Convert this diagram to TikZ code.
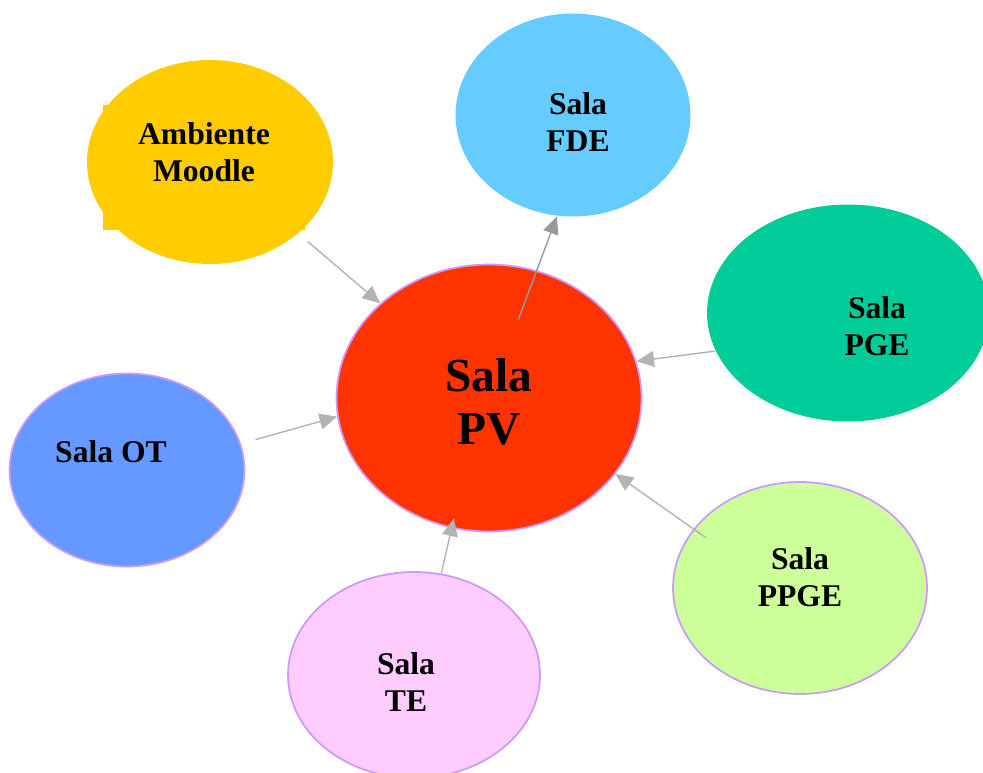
\documentclass[tikz,border=0pt]{standalone}
\usepackage{fontspec}
\setmainfont{Liberation Serif}
\usetikzlibrary{shapes.geometric,arrows.meta}

\definecolor{moodleyellow}{HTML}{FFCC00}
\definecolor{fdeblue}{HTML}{66CCFF}
\definecolor{pgegreen}{HTML}{00CC99}
\definecolor{pvred}{HTML}{FF3300}
\definecolor{otblue}{HTML}{6699FF}
\definecolor{tepink}{HTML}{FFCCFF}
\definecolor{ppgegreen}{HTML}{CCFF99}
\definecolor{rimpurple}{HTML}{CC99FF}
\definecolor{linkgray}{HTML}{B3B3B3}
\definecolor{linkdark}{HTML}{999999}

\begin{document}
\begin{tikzpicture}[x=0.02cm,y=-0.02cm,
    sala/.style={ellipse,inner sep=0pt,draw=rimpurple,line width=1pt},
    salatext/.style={font=\bfseries\fontsize{18}{21}\selectfont,align=center,inner sep=0pt},
    link/.style={-{Triangle[length=10pt,width=9pt]},draw=linkgray,fill=linkgray,line width=0.8pt}]
    \clip (0,0) rectangle (983,773);

    % rooms around the centre
    \fill[moodleyellow] (103,105) rectangle (305,230);
    \node[sala,draw=none,fill=moodleyellow,minimum width=4.92cm,minimum height=4.08cm] (moodle) at (210,162) {};
    \node[sala,draw=none,fill=fdeblue,minimum width=4.7cm,minimum height=4.06cm] (fde) at (573,115) {};
    \node[sala,draw=none,fill=pgegreen,minimum width=5.64cm,minimum height=4.34cm] (pge) at (848,313) {};
    \node[sala,fill=otblue,minimum width=4.7cm,minimum height=3.86cm] (ot) at (127,470) {};
    \node[sala,fill=tepink,minimum width=5.04cm,minimum height=4.12cm] (te) at (414,675) {};
    \node[sala,fill=ppgegreen,minimum width=5.08cm,minimum height=4.24cm] (ppge) at (800,588) {};

    % main room
    \node[sala,fill=pvred,minimum width=6.1cm,minimum height=5.34cm] (pv) at (489,398) {};

    % labels
    \node[salatext] (moodlelbl) at (204,152) {Ambiente\\Moodle};
    \node[salatext] (fdelbl) at (578,122) {Sala\\FDE};
    \node[salatext] (pgelbl) at (877,326) {Sala\\PGE};
    \node[salatext] (otlbl) at (111,452) {Sala OT};
    \node[salatext] (telbl) at (406,682) {Sala\\TE};
    \node[salatext] (ppgelbl) at (800,577) {Sala\\PPGE};
    \node[salatext,font=\bfseries\fontsize{27}{30}\selectfont] (pvlbl) at (489,402) {Sala\\PV};

    % links
    \draw[link,shorten <=0.24cm] (moodle.-39) -- (pv.139);
    \draw[link,draw=linkdark,fill=linkdark,shorten <=1.68cm] (pv.center) -- (fde.261);
    \draw[link] (pge.196) -- (pv.14);
    \draw[link,shorten <=0.3cm] (ot.13) -- (pv.187);
    \draw[link,shorten >=-0.2cm] (te.75) -- (pv.254);
    \draw[link,shorten <=-0.3cm] (ppge.151) -- (pv.-31);
\end{tikzpicture}
\end{document}
